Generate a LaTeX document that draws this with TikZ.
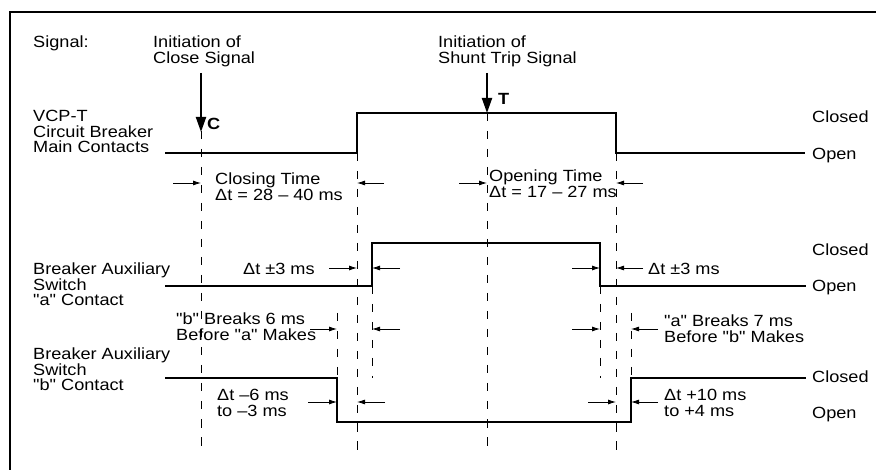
\documentclass[tikz,border=0pt]{standalone}
\usepackage{fontspec}
\setmainfont{Liberation Sans}[FakeStretch=1.12, Ligatures=TeXOff]
\usetikzlibrary{arrows.meta,positioning}

\tikzset{
  lbl/.style={inner sep=0pt, align=left, font=\fontsize{16.2}{15.5}\selectfont},
  wave/.style={line width=1.8pt},
  guide/.style={line width=0.9pt, dash pattern=on 8.5pt off 9.5pt},
  dim/.style={line width=0.8pt, -{Latex[length=8pt,width=5pt]}},
  sig/.style={line width=2pt, -{Triangle[length=15pt,width=10pt]}}
}

\begin{document}
\begin{tikzpicture}[x=1pt,y=-1pt]
    \useasboundingbox (0,0) rectangle (876,470);
    \clip (0,0) rectangle (876,470);
    \draw[line width=2.4pt] (10,12) rectangle (900,500);

    \node[lbl, anchor=north west] (signal) at (33,36) {Signal:};
    \node[lbl, anchor=north west] (closeinit) at (153,36) {Initiation of\\Close Signal};
    \node[lbl, anchor=north west] (tripinit) at (438,36) {Initiation of\\Shunt Trip Signal};
    \node[lbl, anchor=north west] (mainlbl) at (33,110) {VCP-T\\Circuit Breaker\\Main Contacts};
    \node[lbl, anchor=north west] (auxalbl) at (33,263) {Breaker Auxiliary\\Switch\\"a" Contact};
    \node[lbl, anchor=north west] (auxblbl) at (33,348) {Breaker Auxiliary\\Switch\\"b" Contact};

    \node[lbl, anchor=north west] (closetime) at (215,173) {Closing Time\\Δt = 28 – 40 ms};
    \node[lbl, anchor=north west] (opentime) at (489,170) {Opening Time\\Δt = 17 – 27 ms};
    \node[lbl, anchor=base west] (dtaleft) at (243,275) {Δt ±3 ms};
    \node[lbl, anchor=base west] (dtaright) at (648,275) {Δt ±3 ms};
    \node[lbl, anchor=north west] (bbreaks) at (176,313) {"b" Breaks 6 ms\\Before "a" Makes};
    \node[lbl, anchor=north west] (abreaks) at (664,315) {"a" Breaks 7 ms\\Before "b" Makes};
    \node[lbl, anchor=north west] (dtbleft) at (217,389) {Δt –6 ms\\to –3 ms};
    \node[lbl, anchor=north west] (dtbright) at (664,389) {Δt +10 ms\\to +4 ms};

    \node[lbl, anchor=base west] (mainclosed) at (812,123) {Closed};
    \node[lbl, anchor=base west] (mainopen) at (812,160) {Open};
    \node[lbl, anchor=base west] (auxaclosed) at (812,256) {Closed};
    \node[lbl, anchor=base west] (auxaopen) at (812,292) {Open};
    \node[lbl, anchor=base west] (auxbclosed) at (812,383) {Closed};
    \node[lbl, anchor=base west] (auxbopen) at (812,418) {Open};

    \node[lbl, anchor=base west, font=\fontsize{16.2}{15.5}\selectfont\bfseries] (cmark) at (207,130) {C};
    \node[lbl, anchor=base west, font=\fontsize{16.2}{15.5}\selectfont\bfseries] (tmark) at (498,105) {T};

    \draw[guide] (201,131) -- (201,452);
    \draw[guide] (357,153) -- (357,452);
    \draw[guide] (487,113) -- (487,452);
    \draw[guide] (616,153) -- (616,452);
    \draw[guide] (372,286) -- (372,378);
    \draw[guide] (600,286) -- (600,378);
    \draw[guide] (337,313) -- (337,378);
    \draw[guide] (631,313) -- (631,378);

    \draw[wave] (165,153) -- (357,153) -- (357,113) -- (616,113) -- (616,153) -- (805,153);
    \draw[wave] (165,286) -- (372,286) -- (372,243) -- (600,243) -- (600,286) -- (806,286);
    \draw[wave] (165,378) -- (337,378) -- (337,422) -- (631,422) -- (631,378) -- (806,378);

    \draw[sig] (201,73) -- (201,132);
    \draw[sig] (487,73) -- (487,113);

    \draw[dim] (173,183) -- (201,183);
    \draw[dim] (384,183) -- (357,183);
    \draw[dim] (459,183) -- (487,183);
    \draw[dim] (643,183) -- (616,183);

    \draw[dim] (329,268) -- (357,268);
    \draw[dim] (400,268) -- (372,268);
    \draw[dim] (572,268) -- (600,268);
    \draw[dim] (643,268) -- (616,268);

    \draw[dim] (310,329) -- (337,329);
    \draw[dim] (400,329) -- (372,329);
    \draw[dim] (572,329) -- (600,329);
    \draw[dim] (658,329) -- (631,329);

    \draw[dim] (308,402) -- (337,402);
    \draw[dim] (385,402) -- (357,402);
    \draw[dim] (588,402) -- (616,402);
    \draw[dim] (658,402) -- (631,402);
\end{tikzpicture}
\end{document}
